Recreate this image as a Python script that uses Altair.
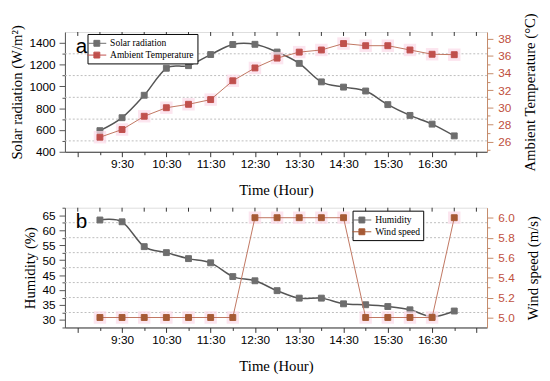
import altair as alt
import pandas as pd

# ---------------- data ----------------
times = ["9:00", "9:30", "10:00", "10:30", "11:00", "11:30", "12:00", "12:30", "13:00",
         "13:30", "14:00", "14:30", "15:00", "15:30", "16:00", "16:30", "17:00"]
solar_radiation = [594, 713, 919, 1167, 1191, 1293, 1385, 1387, 1316, 1212, 1042, 994, 958, 833, 734, 654, 546]
ambient_temperature = [26.5, 27.4, 28.95, 29.95, 30.35, 30.9, 33.1, 34.6, 35.75, 36.45, 36.7, 37.45, 37.2, 37.2, 36.7, 36.2, 36.15]
humidity = [63.4, 62.8, 54.5, 52.5, 50.5, 49.1, 44.5, 43.1, 39.8, 37.3, 37.3, 35.4, 35.1, 34.5, 33.4, 31.1, 33.0]
wind_speed = [5.0, 5.0, 5.0, 5.0, 5.0, 5.0, 5.0, 6.0, 6.0, 6.0, 6.0, 6.0, 5.0, 5.0, 5.0, 5.0, 6.0]

x_tick_values = [8.5, 9.0, 9.5, 10.0, 10.5, 11.0, 11.5, 12.0, 12.5, 13.0, 13.5, 14.0, 14.5, 15.0,
                 15.5, 16.0, 16.5, 17.0, 17.5]
solar_ticks = [400, 500, 600, 700, 800, 900, 1000, 1100, 1200, 1300, 1400]
solar_grid = [500, 700, 900, 1100, 1300]
temp_ticks = [25, 26, 27, 28, 29, 30, 31, 32, 33, 34, 35, 36, 37, 38]
humidity_ticks = [27.5, 30, 32.5, 35, 37.5, 40, 42.5, 45, 47.5, 50, 52.5, 55, 57.5, 60, 62.5, 65, 67.5]
humidity_grid = [32.5, 37.5, 42.5, 47.5, 52.5, 57.5, 62.5]
wind_ticks = [5.0, 5.1, 5.2, 5.3, 5.4, 5.5, 5.6, 5.7, 5.8, 5.9, 6.0]

top_series = ["Solar radiation", "Ambient Temperature"]
bottom_series = ["Humidity", "Wind speed"]
panel_labels = ["a", "b"]


def to_hours(t):
    h, m = t.split(":")
    return int(h) + int(m) / 60.0


hours = [to_hours(t) for t in times]

df_solar = pd.DataFrame({"hour": hours, "value": solar_radiation, "series": top_series[0]})
df_temp = pd.DataFrame({"hour": hours, "value": ambient_temperature, "series": top_series[1]})
df_hum = pd.DataFrame({"hour": hours, "value": humidity, "series": bottom_series[0]})
df_wind = pd.DataFrame({"hour": hours, "value": wind_speed, "series": bottom_series[1]})
df_xt = pd.DataFrame({"hour": x_tick_values})

# ---------------- styling ----------------
GRAY_M = "#6e6e6e"
GRAY_L = "#555555"
RED_M = "#c0504d"
BROWN_M = "#a65a35"
RED_L = "#c07560"
RAXIS = "#c58a68"
RLABEL = "#c0503e"
HALO = "#fbdcea"

W, H = 430, 122
X_DOMAIN = [8.21, 17.74]
xscale = alt.Scale(domain=X_DOMAIN, nice=False, zero=False)

SYMBOL = "M-1.6,0L1.6,0M-0.5,-0.5L0.5,-0.5L0.5,0.5L-0.5,0.5Z"

base_axis = dict(
    labelFont="Liberation Sans", labelFontSize=12,
    titleFont="Liberation Serif", titleFontSize=15, titleFontWeight="normal", titleColor="black",
    labelOverlap=False, labelFlush=False, grid=False,
)


def x_axis():
    return alt.Axis(
        values=x_tick_values,
        labelExpr="(datum.value % 1 > 0.25 && datum.value > 9 && datum.value < 17) ? floor(datum.value) + ':30' : ''",
        tickSize={"condition": {"test": "datum.value % 1 > 0.25", "value": 5}, "value": 3},
        labelPadding=2, title="Time (Hour)", titlePadding=14, labelColor="black",
        domainColor="#333", tickColor="#333", **base_axis,
    )


def left_axis(values, major_test, title, fmt_expr):
    return alt.Axis(
        orient="left", values=values,
        labelExpr=f"({major_test}) ? {fmt_expr} : ''",
        tickSize={"condition": {"test": major_test, "value": 6}, "value": 3},
        labelPadding=4, title=title, titleAngle=270, titlePadding=5, labelColor="black",
        domainColor="#555", tickColor="#555", **base_axis,
    )


def right_axis(values, major_test, title, fmt_expr):
    return alt.Axis(
        orient="right", values=values,
        labelExpr=f"({major_test}) ? {fmt_expr} : ''",
        tickSize={"condition": {"test": major_test, "value": 6}, "value": 3},
        labelPadding=5, title=title, titleAngle=270, titleBaseline="top", titlePadding=12,
        labelColor=RLABEL, domainColor=RAXIS, tickColor=RAXIS, **base_axis,
    )


def legend(lx, ly):
    return alt.Legend(
        title=None, orient="none", legendX=lx, legendY=ly,
        symbolType=SYMBOL, symbolSize=144, symbolStrokeWidth=1,
        labelFont="Liberation Serif", labelFontSize=9.7, labelColor="black",
        labelOffset=7, padding=3, rowPadding=0,
        strokeColor="black", fillColor="white",
    )


def panel(df_l, df_r, grid_vals, series, colors, l_scale, r_scale, l_axis, r_axis, lg, label):
    fill_scale = alt.Scale(domain=series, range=colors)

    def X(field="hour:Q"):
        return alt.X(field, scale=xscale, axis=x_axis())

    def YL():
        return alt.Y("value:Q", scale=l_scale, axis=l_axis)

    def YR():
        return alt.Y("value:Q", scale=r_scale, axis=r_axis)

    grid = alt.Chart(pd.DataFrame({"value": grid_vals})).mark_rule(
        color="#bdbdbd", strokeDash=[2, 2], strokeWidth=1
    ).encode(y=YL())
    left_line = alt.Chart(df_l).mark_line(color=GRAY_L, strokeWidth=1.5, interpolate="cardinal").encode(
        x=X(), y=YL(),
    )
    left_pts = alt.Chart(df_l).mark_square(size=36, strokeWidth=1, opacity=1).encode(
        x=X(), y=YL(),
        fill=alt.Fill("series:N", scale=fill_scale, legend=lg),
        stroke=alt.Stroke("series:N", scale=fill_scale, legend=lg),
    )
    right_halo = alt.Chart(df_r).mark_square(size=160, color=HALO, opacity=0.75).encode(
        x=X(), y=YR(),
    )
    right_line = alt.Chart(df_r).mark_line(color=RED_L, strokeWidth=1).encode(
        x=X(), y=YR(),
    )
    right_pts = alt.Chart(df_r).mark_square(size=36, strokeWidth=1, opacity=1).encode(
        x=X(), y=YR(),
        fill=alt.Fill("series:N", scale=fill_scale, legend=lg),
        stroke=alt.Stroke("series:N", scale=fill_scale, legend=lg),
    )
    top_ticks = alt.Chart(df_xt).mark_rule(color="#333", strokeWidth=1).encode(
        x=X(), y=alt.value(0), y2=alt.value(4),
    )
    lab = alt.Chart(pd.DataFrame({"label": [label]})).mark_text(
        align="left", baseline="alphabetic", fontSize=21, font="Liberation Sans", color="black"
    ).encode(x=alt.value(11), y=alt.value(21), text="label:N")

    return alt.layer(
        alt.layer(grid, left_line, left_pts, top_ticks),
        alt.layer(right_halo, right_line, right_pts),
        lab,
    ).resolve_scale(y="independent").properties(width=W, height=H)


top = panel(
    df_solar, df_temp, solar_grid, top_series, [GRAY_M, RED_M],
    alt.Scale(domain=[400, 1500], nice=False, zero=False),
    alt.Scale(domain=[24.8, 38.8], nice=False, zero=False),
    left_axis(solar_ticks, "datum.value % 200 === 0", "Solar radiation (W/m²)", "format(datum.value, 'd')"),
    right_axis(temp_ticks, "datum.value % 2 === 0", "Ambient Temperature (°C)", "format(datum.value, 'd')"),
    legend(23, 2), panel_labels[0],
)

bottom = panel(
    df_hum, df_wind, humidity_grid, bottom_series, [GRAY_M, BROWN_M],
    alt.Scale(domain=[27.5, 67.5], nice=False, zero=False),
    alt.Scale(domain=[4.9, 6.1], nice=False, zero=False),
    left_axis(humidity_ticks, "datum.value % 5 === 0", "Humidity (%)", "format(datum.value, 'd')"),
    right_axis(wind_ticks, "round(datum.value * 10) % 2 === 0", "Wind speed (m/s)", "format(datum.value, '.1f')"),
    legend(293, 3), panel_labels[1],
)

chart = alt.vconcat(top, bottom, spacing=2).resolve_scale(
    fill="independent", stroke="independent"
).resolve_legend(fill="independent", stroke="independent").properties(
    padding={"top": 0, "left": 0, "right": 0, "bottom": 0}
).configure_view(stroke="#333", strokeWidth=1).configure(background="white")

chart.save("out.html", embed_options={"renderer": "svg", "actions": False})
